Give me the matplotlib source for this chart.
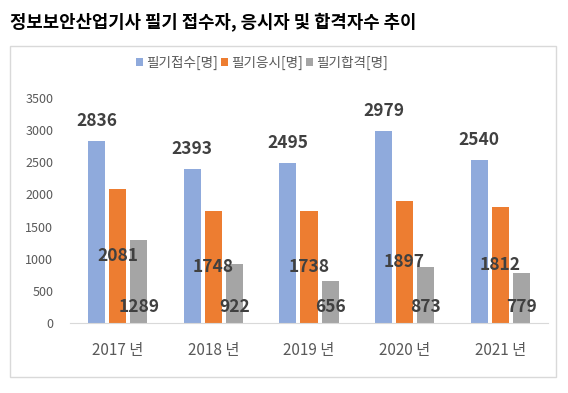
import matplotlib
matplotlib.use("Agg")
import matplotlib.pyplot as plt
from matplotlib.patches import Rectangle
import numpy as np

plt.rcParams['font.family'] = ['Noto Sans CJK KR', 'DejaVu Sans']

title = "정보보안산업기사 필기 접수자, 응시자 및 합격자수 추이"
categories = ["2017 년", "2018 년", "2019 년", "2020 년", "2021 년"]
series_names = ["필기접수[명]", "필기응시[명]", "필기합격[명]"]
applied = [2836, 2393, 2495, 2979, 2540]
took = [2081, 1748, 1738, 1897, 1812]
passed = [1289, 922, 656, 873, 779]
colors = ["#8FAADC", "#ED7D31", "#A5A5A5"]
yticks = [0, 500, 1000, 1500, 2000, 2500, 3000, 3500]

W, H = 568, 393
fig = plt.figure(figsize=(W / 100, H / 100), dpi=100)
ax = fig.add_axes([70 / W, 1 - 323 / H, (548 - 70) / W, (323 - 98) / H])

x = np.arange(len(categories))
off = 0.22
bw = 0.178
b1 = ax.bar(x - off, applied, bw, color=colors[0], label=series_names[0])
b2 = ax.bar(x, took, bw, color=colors[1], label=series_names[1])
b3 = ax.bar(x + off, passed, bw, color=colors[2], label=series_names[2])

lab_kw = dict(fontsize=12.5, fontweight='bold', color='#404040', ha='center', va='center',
              textcoords='offset pixels')
for xi, v in zip(x, applied):
    ax.annotate(str(v), xy=(xi - off, v), xytext=(0, 20), **lab_kw)
for xi, v in zip(x, took):
    ax.annotate(str(v), xy=(xi, v / 2), xytext=(0, 0), **lab_kw)
for xi, v in zip(x, passed):
    ax.annotate(str(v), xy=(xi + off, 0), xytext=(0, 16), **lab_kw)

ax.set_xlim(-0.5, len(categories) - 0.5)
ax.set_ylim(0, 3500)
ax.set_yticks(yticks)
ax.set_xticks(x)
ax.set_xticklabels(categories, fontsize=11, color='#595959')
ax.tick_params(axis='y', length=0, pad=12, labelsize=9, labelcolor='#595959')
ax.tick_params(axis='x', length=0, pad=14)
for s in ['top', 'right', 'left']:
    ax.spines[s].set_visible(False)
ax.spines['bottom'].set_color('#D9D9D9')
ax.patch.set_alpha(0)

fig.legend(handles=[b1, b2, b3], labels=series_names, loc='center',
           bbox_to_anchor=(262 / W, 1 - 63 / H), ncol=3, frameon=False,
           fontsize=9.8, labelcolor='#595959', handlelength=0.5, handleheight=0.5,
           handletextpad=0.25, columnspacing=0.2, borderpad=0)

fig.patches.append(Rectangle((10 / W, 1 - 377 / H), (556 - 10) / W, (377 - 46) / H,
                             transform=fig.transFigure, fill=False,
                             edgecolor='#D9D9D9', linewidth=1))

fig.text(10 / W, 1 - 22 / H, title, fontsize=12.8, fontweight='bold', color='black',
         ha='left', va='center')

fig.savefig("out.png", dpi=100)
